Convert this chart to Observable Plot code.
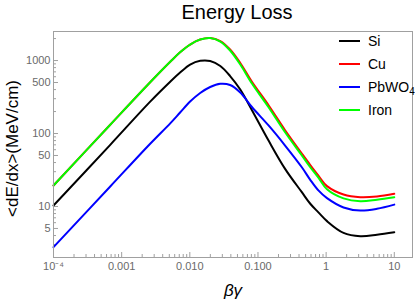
<!DOCTYPE html>
<html><head><meta charset="utf-8">
<script src="https://cdn.jsdelivr.net/npm/d3@7"></script>
<script src="https://cdn.jsdelivr.net/npm/@observablehq/plot@0.6"></script>
<style>
body{margin:0;background:#fff;}
#wrap{position:relative;width:415px;height:302px;font-family:"Liberation Sans",Arial,sans-serif;}
#legend{position:absolute;left:339px;top:30px;}
.row{position:absolute;left:0;height:22px;display:flex;align-items:center;white-space:nowrap;font-size:14px;color:#000;}
.sw{display:inline-block;width:21px;height:2px;margin-right:8px;}
sub{font-size:10px;vertical-align:-3px;line-height:0;}
</style></head><body><div id="wrap"></div>
<script>
const betaGamma = [0.0001, 0.00068, 0.0026, 0.0052, 0.0072, 0.0101, 0.0142, 0.0199, 0.028, 0.039, 0.055, 0.082, 0.143, 0.25, 0.44, 0.585, 0.77, 1.03, 1.8, 3.17, 5.57, 10];
const siValues    = [10.3, 70, 271, 516, 685, 881, 990, 984, 841, 613, 401, 207, 80, 32.8, 15.7, 10.9, 8.3, 6.3, 4.35, 3.92, 4.10, 4.44];
const cuValues    = [19.4, 132, 500, 969, 1299, 1657, 1940, 2034, 1850, 1415, 924, 508, 244, 111, 53.2, 37.0, 26.5, 19.0, 14.6, 13.4, 13.7, 14.9];
const pbwo4Values = [2.77, 18.8, 71.8, 139, 194, 274, 359, 434, 480, 462, 364, 229, 129, 68.5, 34.5, 23.2, 16.6, 13.0, 9.7, 8.8, 9.3, 10.6];
const ironValues  = [19.4, 132, 500, 969, 1299, 1657, 1940, 2034, 1821, 1371, 881, 480, 229, 104, 50.0, 34.5, 24.8, 17.2, 12.9, 11.8, 12.4, 13.4];

const seriesNames = ["Si", "Cu", "PbWO4", "Iron"];
const seriesLabels = ["Si", "Cu", "PbWO<sub>4</sub>", "Iron"];
const seriesColors = ["#000000", "#ff0000", "#0000ff", "#00ff00"];
const seriesValues = [siValues, cuValues, pbwo4Values, ironValues];

const xTickValues = [1e-4, 1e-3, 1e-2, 0.1, 1, 10];
const xTickLabels = ["10\u207B\u2074", "0.001", "0.010", "0.100", "1", "10"];
const yTickValues = [5, 10, 50, 100, 500, 1000];
const yTickLabels = ["5", "10", "50", "100", "500", "1000"];

const titleText = "Energy Loss";
const xLabel = "\u03B2\u03B3";
const yLabel = "<dE/dx>(MeV/cm)";

const rows = [];
seriesNames.forEach((s, i) => betaGamma.forEach((b, j) => rows.push({series: s, bg: b, v: seriesValues[i][j]})));

const xMinor = [];
for (let e = -4; e <= 1; e++) for (let m = 2; m <= 9; m++) { const v = m * Math.pow(10, e); if (v <= 18.5) xMinor.push(v); }
const yMinor = [];
for (let e = 0; e <= 3; e++) for (let m = 2; m <= 9; m++) { const v = m * Math.pow(10, e); if (v >= 2 && v <= 2500 && m !== 5) yMinor.push(v); }

const frameGrey = "#a0a0a0";
const labelGrey = "#6a6a6a";

const chart = Plot.plot({
  width: 415, height: 302,
  marginLeft: 53, marginRight: 3, marginTop: 31, marginBottom: 45,
  style: {fontFamily: "'Liberation Sans', Arial, sans-serif", background: "#fff", color: "#000"},
  x: {type: "log", domain: [1e-4, 18.5]},
  y: {type: "log", domain: [2, 2500]},
  color: {domain: seriesNames, range: seriesColors},
  marks: [
    Plot.axisX(xMinor, {tickSize: 3, dy: -3, fill: "none", stroke: frameGrey, label: null}),
    Plot.axisX(xTickValues, {tickSize: 5, dy: -5, fill: "none", stroke: frameGrey, label: null}),
    Plot.axisY(yMinor, {tickSize: 3, dx: 3, fill: "none", stroke: frameGrey, label: null}),
    Plot.axisY(yTickValues, {tickSize: 5, dx: 5, fill: "none", stroke: frameGrey, label: null}),
    Plot.text(xTickValues, {x: d => d, text: d => xTickLabels[xTickValues.indexOf(d)], frameAnchor: "bottom", lineAnchor: "top", textAnchor: "middle", dy: 5, fontSize: 11, fill: labelGrey}),
    Plot.text(yTickValues, {y: d => d, text: d => yTickLabels[yTickValues.indexOf(d)], frameAnchor: "left", lineAnchor: "middle", textAnchor: "end", dx: -3, fontSize: 11, fill: labelGrey}),
    Plot.line(rows, {x: "bg", y: "v", z: "series", stroke: "series", strokeWidth: 2, curve: "catmull-rom"}),
    Plot.frame({stroke: frameGrey}),
    Plot.text([titleText], {frameAnchor: "top", lineAnchor: "middle", textAnchor: "middle", dy: -19, dx: 4, fontSize: 20, fill: "#000"}),
    Plot.text([xLabel], {frameAnchor: "bottom", lineAnchor: "middle", textAnchor: "middle", dy: 33, fontSize: 17, fontStyle: "italic", fill: "#000"}),
    Plot.text([yLabel], {frameAnchor: "left", lineAnchor: "middle", textAnchor: "middle", rotate: -90, dx: -41, dy: 4, fontSize: 17, fill: "#000"})
  ]
});
const wrap = document.getElementById("wrap");
wrap.appendChild(chart);

const legend = document.createElement("div");
legend.id = "legend";
seriesNames.forEach((s, i) => {
  const r = document.createElement("div");
  r.className = "row";
  r.style.top = (i * 23) + "px";
  r.innerHTML = `<span class="sw" style="background:${seriesColors[i]}"></span><span>${seriesLabels[i]}</span>`;
  legend.appendChild(r);
});
wrap.appendChild(legend);
</script></body></html>
